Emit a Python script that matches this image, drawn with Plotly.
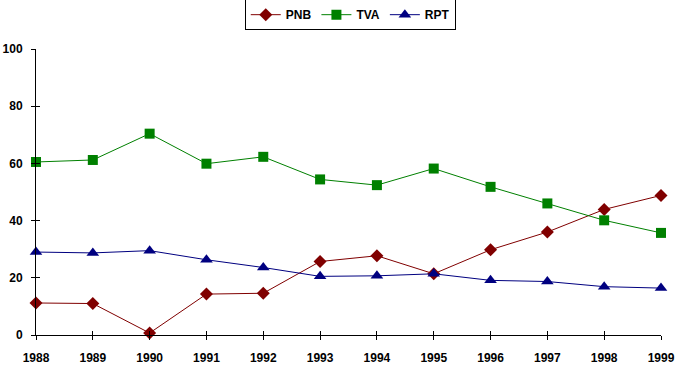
import plotly.graph_objects as go

years = [1988, 1989, 1990, 1991, 1992, 1993, 1994, 1995, 1996, 1997, 1998, 1999]
pnb = [11.2, 11.0, 0.7, 14.3, 14.6, 25.7, 27.7, 21.4, 29.8, 36.0, 43.9, 48.8]
tva = [60.5, 61.2, 70.4, 59.9, 62.3, 54.4, 52.4, 58.2, 51.8, 46.0, 40.1, 35.7]
rpt = [29.0, 28.7, 29.5, 26.3, 23.6, 20.5, 20.7, 21.4, 19.1, 18.7, 16.9, 16.4]
y_ticks = [0, 20, 40, 60, 80, 100]

fam = "Liberation Sans, Arial, sans-serif"
font = dict(family=fam, size=12, color="black")

fig = go.Figure()
series = [
    ("PNB", pnb, "#800000", "diamond", 10),
    ("TVA", tva, "#008000", "square", 10),
    ("RPT", rpt, "#000080", "triangle-up", 11),
]
for name, vals, col, sym, sz in series:
    fig.add_trace(go.Scatter(
        x=years, y=vals, name=name, mode="lines+markers",
        line=dict(color=col, width=1),
        marker=dict(symbol=sym, size=sz, color=col, line=dict(width=0)),
        cliponaxis=False,
    ))

axis_common = dict(showgrid=False, zeroline=False, showline=True, linecolor="black",
                   linewidth=1, tickcolor="black", ticklen=4, tickwidth=1, automargin=False)

fig.update_layout(
    width=688, height=368,
    margin=dict(l=36, r=27, t=49, b=33, autoexpand=False),
    paper_bgcolor="white", plot_bgcolor="white",
    font=font,
    showlegend=True,
    legend=dict(orientation="h", x=0.334, xanchor="left", y=1.12, yanchor="middle",
                bordercolor="black", borderwidth=1, bgcolor="white",
                font=dict(family=fam, size=12, color="black", weight="bold"),
                tracegroupgap=0, itemwidth=30),
    xaxis=dict(range=[1988, 1999], tickmode="array", tickvals=years,
               ticktext=[f"<b>{y}</b>" for y in years], ticks="outside",
               ticklabelstandoff=8, **axis_common),
    yaxis=dict(range=[0, 100], tickmode="array", tickvals=y_ticks,
               ticktext=[f"<b>{v}</b>" for v in y_ticks], ticks="outside",
               ticklabelstandoff=6, **axis_common),
    xaxis2=dict(range=[1988, 1999], overlaying="x", tickmode="array", tickvals=years,
                showticklabels=False, ticks="inside", showgrid=False, zeroline=False,
                showline=False, tickcolor="black", ticklen=4, anchor="y2", side="bottom",
                automargin=False),
    yaxis2=dict(range=[0, 100], overlaying="y", tickmode="array", tickvals=y_ticks,
                showticklabels=False, ticks="inside", showgrid=False, zeroline=False,
                showline=False, tickcolor="black", ticklen=4, anchor="x2", side="left",
                automargin=False),
)
fig.add_trace(go.Scatter(x=[1988], y=[0], xaxis="x2", yaxis="y2", mode="markers",
                         marker=dict(opacity=0), showlegend=False, hoverinfo="skip"))

fig.write_html("out.html", config={"displayModeBar": False},
               post_script="document.body.style.margin='0';document.body.style.overflow='hidden';")
